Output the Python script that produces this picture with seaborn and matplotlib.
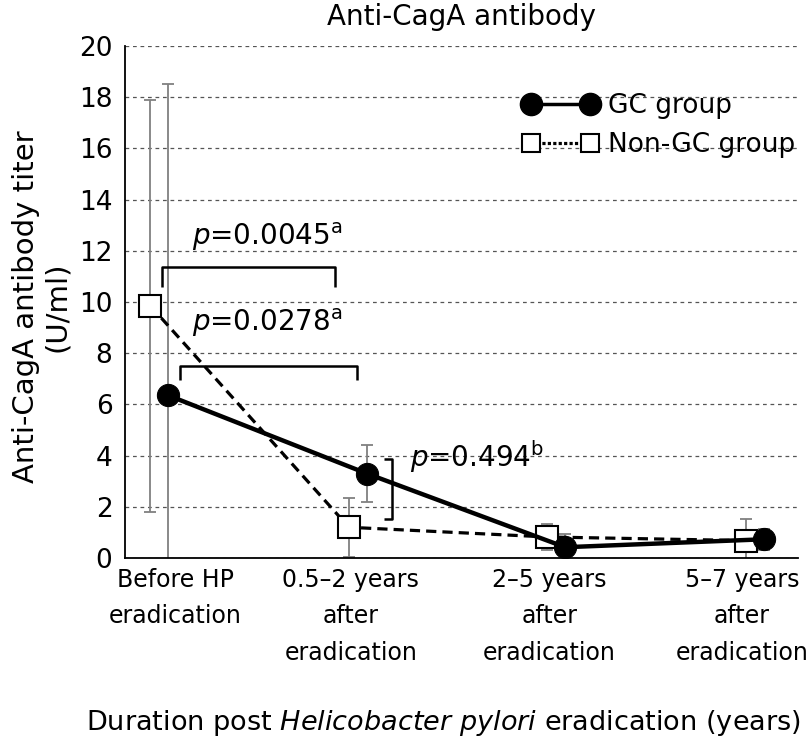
import matplotlib
matplotlib.use("Agg")
import matplotlib.pyplot as plt
from matplotlib.lines import Line2D
import matplotlib.transforms as mtransforms
import seaborn as sns
import pandas as pd
import numpy as np

# ---- data ----
categories = ["Before HP\neradication", "0.5\u20132 years\nafter\neradication",
              "2\u20135 years\nafter\neradication", "5\u20137 years\nafter\neradication"]
gc_mean = [6.35, 3.3, 0.42, 0.73]
gc_sd = [12.15, 1.1, 0.5, 0.4]
ngc_mean = [9.85, 1.2, 0.82, 0.68]
ngc_sd = [8.05, 1.15, 0.52, 0.85]
groups = ["GC group", "Non-GC group"]
p_labels = ["$p$=0.0045$^{\\mathrm{a}}$", "$p$=0.0278$^{\\mathrm{a}}$", "$p$=0.494$^{\\mathrm{b}}$"]

sns.set_theme(style="white")
plt.rcParams["font.family"] = ["DejaVu Sans"]
plt.rcParams["mathtext.fontset"] = "custom"
plt.rcParams["mathtext.rm"] = "DejaVu Sans"
plt.rcParams["mathtext.it"] = "DejaVu Sans:italic"
for k in ["text.color", "axes.labelcolor", "xtick.color", "ytick.color"]:
    plt.rcParams[k] = "black"

FS = 19
FL = 20
FX = 17
fig = plt.figure(figsize=(8.09, 7.41), dpi=100)
ax = fig.add_axes([0.1545, 0.247, 0.9864 - 0.1545, 0.9379 - 0.247])

dodge = 0.09
idx = np.arange(len(categories))
df_gc = pd.DataFrame({"x": idx + dodge, "y": gc_mean, "sd": gc_sd})
df_ngc = pd.DataFrame({"x": idx.astype(float), "y": ngc_mean, "sd": ngc_sd})

# error bars
ax.errorbar(df_ngc["x"], df_ngc["y"], yerr=df_ngc["sd"], fmt="none", ecolor="#808080",
            elinewidth=1.3, capsize=4.5, capthick=1.3, zorder=2)
ax.errorbar(df_gc["x"], df_gc["y"], yerr=df_gc["sd"], fmt="none", ecolor="#808080",
            elinewidth=1.3, capsize=4.5, capthick=1.3, zorder=2)

sns.lineplot(data=df_ngc, x="x", y="y", ax=ax, color="black", lw=2.3, marker="s",
             markersize=16, markerfacecolor="white", markeredgecolor="black",
             markeredgewidth=1.5, zorder=3, legend=False)
ax.lines[-1].set_linestyle((0, (3.2, 1.9)))
sns.lineplot(data=df_gc, x="x", y="y", ax=ax, color="black", lw=3.2, marker="o",
             markersize=16, markerfacecolor="black", markeredgecolor="black",
             zorder=4, legend=False)

# axes styling
ax.set_ylim(0, 20)
ax.set_yticks(np.arange(0, 21, 2))
ax.set_xlim(-0.128, 3.263)
ax.set_xticks(idx + 0.01)
ax.set_xticklabels(categories, fontsize=FX, linespacing=1.66)
ax.tick_params(axis="y", labelsize=FS, length=0, pad=9)
ax.tick_params(axis="x", length=0, pad=7)
tl = ax.get_xticklabels()
tl[0].set_transform(tl[0].get_transform() +
                    mtransforms.ScaledTranslation(0.23, 0, fig.dpi_scale_trans))
tl[-1].set_transform(tl[-1].get_transform() +
                     mtransforms.ScaledTranslation(-0.06, 0, fig.dpi_scale_trans))
ax.yaxis.grid(True, linestyle=(0, (3, 3)), color="#555555", lw=0.9)
ax.set_axisbelow(True)
for s in ["top", "right"]:
    ax.spines[s].set_visible(False)
for s in ["left", "bottom"]:
    ax.spines[s].set_color("black")
    ax.spines[s].set_linewidth(1.3)

ax.set_title("Anti-CagA antibody", fontsize=FL, pad=15)
ax.set_ylabel("Anti-CagA antibody titer\n(U/ml)", fontsize=21, labelpad=6,
              linespacing=1.1)
ax.yaxis.label.set_y(0.49)
ax.set_xlabel("Duration post $\\it{Helicobacter\\ pylori}$ eradication (years)",
              fontsize=19.5, labelpad=31)
ax.xaxis.label.set_x(0.4725)

# significance brackets
kw = dict(color="black", lw=1.8, solid_capstyle="butt", clip_on=False, zorder=5)
ax.plot([0.058, 0.058, 0.930, 0.930], [10.6, 11.35, 11.35, 10.6], **kw)
ax.text(0.59, 12.55, p_labels[0], fontsize=FL, ha="center", va="center")
ax.plot([0.149, 0.149, 1.041, 1.041], [6.97, 7.51, 7.51, 6.97], **kw)
ax.text(0.588, 9.2, p_labels[1], fontsize=FL, ha="center", va="center")
ax.plot([1.177, 1.217, 1.217, 1.177], [3.87, 3.87, 1.53, 1.53], **kw)
ax.text(1.308, 3.95, p_labels[2], fontsize=FL, ha="left", va="center")

# legend
h_gc = Line2D([], [], color="black", lw=2.5, marker="o", markersize=16,
              markerfacecolor="black")
h_ngc = Line2D([], [], color="black", lw=2.3, linestyle=(0, (1, 0.7)), marker="s",
               markersize=13, markerfacecolor="white", markeredgewidth=1.5)
leg = ax.legend([h_gc, h_ngc], groups, loc="upper left", bbox_to_anchor=(0.556, 0.955),
                numpoints=2, handlelength=2.86, frameon=False, fontsize=FS,
                labelspacing=0.5, handletextpad=0.35)

fig.savefig("out.png", dpi=100)
